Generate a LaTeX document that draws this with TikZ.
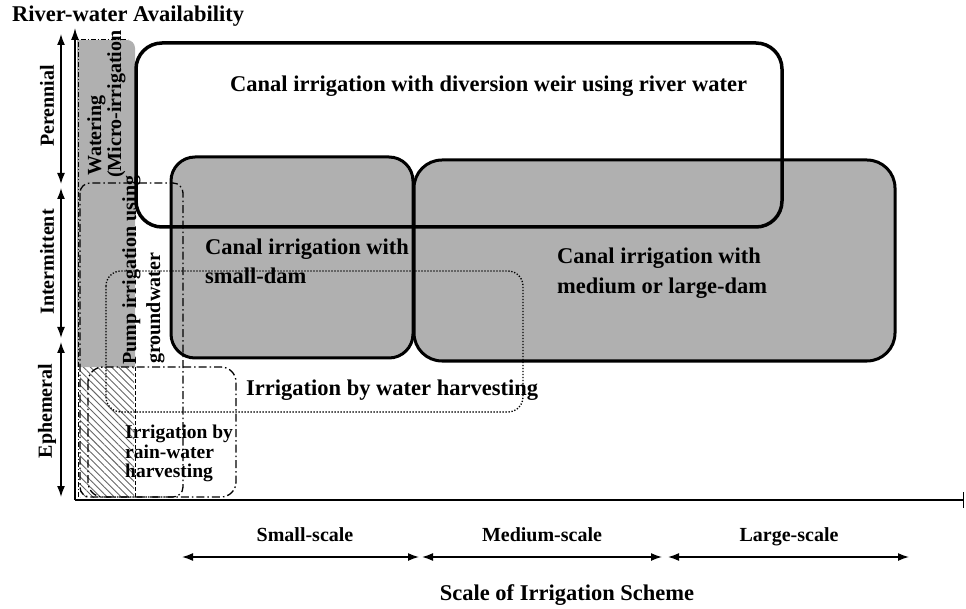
\documentclass[tikz,border=0pt]{standalone}
\usepackage{fontspec}
\setmainfont{Liberation Serif}
\usetikzlibrary{arrows.meta,patterns.meta}

\begin{document}
\begin{tikzpicture}[x=1pt,y=-1pt,
  lbl/.style={font=\bfseries\fontsize{22.5}{26}\selectfont, inner sep=0pt},
  sublbl/.style={font=\bfseries\fontsize{20}{22}\selectfont, inner sep=0pt},
  smalllbl/.style={font=\bfseries\fontsize{19.5}{20}\selectfont, inner sep=0pt},
  heavy/.style={line width=3pt},
  halftone/.style={fill=black!31},
  dashdot/.style={line width=1.3pt, dash pattern=on 8pt off 3pt on 1.5pt off 3pt},
  dotline/.style={line width=1.3pt, dash pattern=on 1.3pt off 1.7pt},
  span/.style={line width=1.5pt, {Latex[length=11pt,width=8pt]}-{Latex[length=11pt,width=8pt]}},
]
\useasboundingbox (0,0) rectangle (966,609);

% micro-irrigation strip and its hatched lower part
\fill[halftone] (77,367) -- (77,40) [rounded corners=8pt] -- (135,40) [sharp corners] -- (135,367) -- cycle;
\fill[pattern={Lines[angle=-45,distance=5pt,line width=0.9pt]}, pattern color=black!60]
  (80,367) rectangle (134,497);
\draw[line width=1pt, dash pattern=on 5pt off 2pt on 1pt off 2pt] (78,497) -- (78,40) -- (128,40);
\draw[line width=1pt, dash pattern=on 4pt off 2pt] (135,367) -- (135,497);

% dam-based canal schemes
\draw[heavy, halftone, rounded corners=24pt] (171,157) rectangle (413,358);
\draw[heavy, halftone, rounded corners=28pt] (414,160) rectangle (895,361);

% diversion weir scheme
\draw[line width=3.5pt, rounded corners=26pt] (136,43) rectangle (782,227);

% groundwater and harvesting schemes
\draw[dashdot, rounded corners=10pt] (80,183) rectangle (183,497);
\draw[dotline, rounded corners=15pt] (106,271) rectangle (523,412);
\draw[dashdot, rounded corners=15pt] (88,367) rectangle (236,497);

% axes
\coordinate (origin) at (75,500);
\coordinate (ytop) at (75,28);
\coordinate (xend) at (964,500);
\draw[line width=1.5pt, -{Latex[length=12pt,width=8pt]}] (origin) -- (ytop);
\draw[line width=1.5pt, -{Bar[width=16pt]}] (origin) -- (xend);

% availability ranges
\coordinate (per-a) at (61,34);  \coordinate (per-b) at (61,184);
\coordinate (int-a) at (61,188); \coordinate (int-b) at (61,338);
\coordinate (eph-a) at (61,342); \coordinate (eph-b) at (61,497);
\draw[span] (per-a) -- (per-b);
\draw[span] (int-a) -- (int-b);
\draw[span] (eph-a) -- (eph-b);
\node[sublbl, rotate=90] (perennial) at (47,106) {Perennial};
\node[sublbl, rotate=90] (intermittent) at (47,262) {Intermittent};
\node[sublbl, rotate=90] (ephemeral) at (47,411) {Ephemeral};

% scale ranges
\coordinate (sm-a) at (182,557);  \coordinate (sm-b) at (419,557);
\coordinate (md-a) at (422,557);  \coordinate (md-b) at (662,557);
\coordinate (lg-a) at (668,557);  \coordinate (lg-b) at (909,557);
\draw[span] (sm-a) -- (sm-b);
\draw[span] (md-a) -- (md-b);
\draw[span] (lg-a) -- (lg-b);
\node[sublbl, anchor=base] (small) at (305,541) {Small-scale};
\node[sublbl, anchor=base] (medium) at (542,541) {Medium-scale};
\node[sublbl, anchor=base] (large) at (789,541) {Large-scale};

% axis titles
\node[lbl, anchor=base west] (ytitle) at (12,22) {River-water Availability};
\node[lbl, anchor=base] (xtitle) at (567,600) {Scale of Irrigation Scheme};

% scheme labels
\node[lbl, anchor=base west] (weir) at (230,92) {Canal irrigation with diversion weir using river water};
\node[lbl, anchor=base west] (sd1) at (205,255) {Canal irrigation with};
\node[lbl, anchor=base west] (sd2) at (205,284) {small-dam};
\node[lbl, anchor=base west] (ld1) at (557,264) {Canal irrigation with};
\node[lbl, anchor=base west] (ld2) at (557,294) {medium or large-dam};
\node[lbl, anchor=base west] (wh) at (246,395) {Irrigation by water harvesting};
\node[smalllbl, anchor=base west] (rw1) at (125,438) {Irrigation by};
\node[smalllbl, anchor=base west] (rw2) at (125,458) {rain-water};
\node[smalllbl, anchor=base west] (rw3) at (125,477) {harvesting};
\node[sublbl, rotate=90, anchor=base west] (wat1) at (101,176) {Watering};
\node[sublbl, rotate=90, anchor=base west] (wat2) at (121,178) {(Micro-irrigation};
\node[sublbl, rotate=90, anchor=base west] (pump1) at (136,365) {Pump irrigation using};
\node[sublbl, rotate=90, anchor=base west] (pump2) at (160,364) {groundwater};
\end{tikzpicture}
\end{document}
